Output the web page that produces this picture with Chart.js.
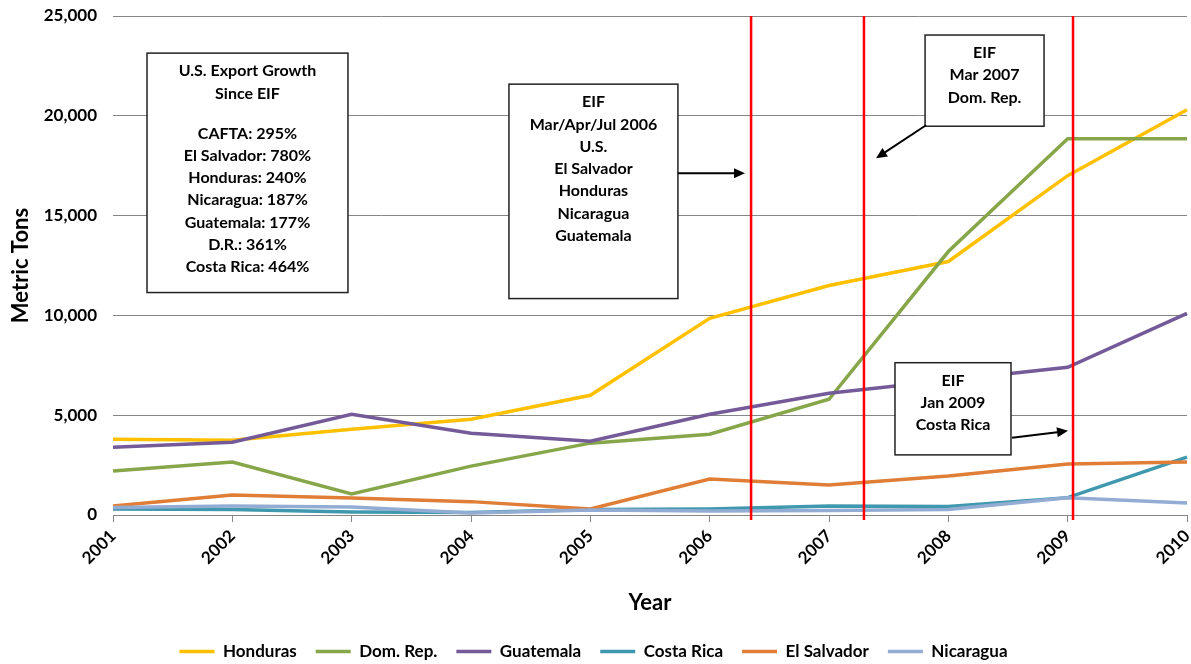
<!DOCTYPE html>
<html>
<head>
<meta charset="utf-8">
<script src="https://cdn.jsdelivr.net/npm/chart.js@4.4.1/dist/chart.umd.min.js"></script>
<style>
  html, body { margin: 0; padding: 0; background: #fff; overflow: hidden; }
  #wrap { width: 1191px; height: 664px; }
</style>
</head>
<body>
<div id="wrap"><canvas id="chart"></canvas></div>
<script>
const years = ['2001', '2002', '2003', '2004', '2005', '2006', '2007', '2008', '2009', '2010'];

const honduras   = [3800, 3750, 4300, 4800, 6000, 9850, 11500, 12700, 17000, 20300];
const domRep     = [2200, 2650, 1050, 2450, 3600, 4050, 5800, 13200, 18850, 18850];
const guatemala  = [3400, 3650, 5050, 4100, 3700, 5050, 6100, 6750, 7400, 10100];
const costaRica  = [300, 280, 150, 130, 280, 300, 450, 420, 870, 2900];
const elSalvador = [450, 1000, 850, 670, 300, 1800, 1500, 1950, 2550, 2650];
const nicaragua  = [380, 450, 400, 100, 250, 200, 230, 280, 870, 600];

const yTicks = [0, 5000, 10000, 15000, 20000, 25000];

// entry-into-force dates, as fractional positions on the year axis (0 = 2001)
const eifLines = [5.347, 6.293, 8.045];

// text boxes, placed in axis units (x: year index, y: metric tons)
const notes = [
    { x0: 0.285, x1: 1.969, yTop: 23140, yBot: 11145,
      lines: ['U.S. Export Growth', 'Since EIF', '', 'CAFTA: 295%', 'El Salvador: 780%', 'Honduras: 240%',
              'Nicaragua: 187%', 'Guatemala: 177%', 'D.R.: 361%', 'Costa Rica: 464%'] },
    { x0: 3.318, x1: 4.734, yTop: 21586, yBot: 10843,
      lines: ['EIF', 'Mar/Apr/Jul 2006', 'U.S.', 'El Salvador', 'Honduras', 'Nicaragua', 'Guatemala'] },
    { x0: 6.805, x1: 7.802, yTop: 24046, yBot: 19478,
      lines: ['EIF', 'Mar 2007', 'Dom. Rep.'] },
    { x0: 6.553, x1: 7.525, yTop: 7630, yBot: 3012,
      lines: ['EIF', 'Jan 2009', 'Costa Rica'] }
];

const arrows = [
    { from: [4.734, 17118], to: [5.296, 17118] },
    { from: [6.813, 19528], to: [6.394, 17871] },
    { from: [7.534, 3865], to: [8.003, 4217] }
];

const FONT = 'Lato, "Open Sans", sans-serif';
const GRID = '#868686';

function drawArrow(ctx, x1, y1, x2, y2) {
    const ang = Math.atan2(y2 - y1, x2 - x1);
    const head = 11;
    ctx.beginPath();
    ctx.moveTo(x1, y1);
    ctx.lineTo(x2 - Math.cos(ang) * head * 0.8, y2 - Math.sin(ang) * head * 0.8);
    ctx.stroke();
    ctx.beginPath();
    ctx.moveTo(x2, y2);
    ctx.lineTo(x2 - head * Math.cos(ang) + 5 * Math.sin(ang), y2 - head * Math.sin(ang) - 5 * Math.cos(ang));
    ctx.lineTo(x2 - head * Math.cos(ang) - 5 * Math.sin(ang), y2 - head * Math.sin(ang) + 5 * Math.cos(ang));
    ctx.closePath();
    ctx.fill();
}

const eifPlugin = {
    id: 'eifNotes',
    afterDatasetsDraw(chart) {
        const { ctx, chartArea, scales: { x, y } } = chart;
        ctx.save();

        ctx.strokeStyle = '#ff0000';
        ctx.lineWidth = 2.5;
        eifLines.forEach(v => {
            const px = x.getPixelForValue(v);
            ctx.beginPath();
            ctx.moveTo(px, chartArea.top);
            ctx.lineTo(px, chartArea.bottom + 5);
            ctx.stroke();
        });

        ctx.font = `bold 16px ${FONT}`;
        ctx.textAlign = 'center';
        ctx.textBaseline = 'middle';
        notes.forEach(n => {
            const l = x.getPixelForValue(n.x0);
            const r = x.getPixelForValue(n.x1);
            const t = y.getPixelForValue(n.yTop);
            const b = y.getPixelForValue(n.yBot);
            ctx.fillStyle = '#fff';
            ctx.fillRect(l, t, r - l, b - t);
            ctx.strokeStyle = '#222';
            ctx.lineWidth = 1.5;
            ctx.strokeRect(l, t, r - l, b - t);
            ctx.fillStyle = '#000';
            let ty = t + 18;
            n.lines.forEach(line => {
                if (line === '') { ty += 17.7; return; }
                ctx.fillText(line, (l + r) / 2, ty);
                ty += 22.3;
            });
        });

        ctx.strokeStyle = '#000';
        ctx.fillStyle = '#000';
        ctx.lineWidth = 2;
        arrows.forEach(a => {
            drawArrow(ctx,
                x.getPixelForValue(a.from[0]), y.getPixelForValue(a.from[1]),
                x.getPixelForValue(a.to[0]), y.getPixelForValue(a.to[1]));
        });
        ctx.restore();
    }
};

function series(label, data, color, order) {
    return {
        label, data, order,
        borderColor: color,
        backgroundColor: color,
        borderWidth: 3.5,
        pointRadius: 0,
        tension: 0,
        fill: false
    };
}

new Chart(document.getElementById('chart'), {
    type: 'line',
    data: {
        labels: years,
        datasets: [
            series('Honduras', honduras, '#FFC000', 5),
            series('Dom. Rep.', domRep, '#87A64A', 4),
            series('Guatemala', guatemala, '#745A98', 3),
            series('Costa Rica', costaRica, '#3F98AE', 2),
            series('El Salvador', elSalvador, '#E07E38', 1),
            series('Nicaragua', nicaragua, '#93ACD4', 0)
        ]
    },
    options: {
        responsive: true,
        maintainAspectRatio: false,
        animation: false,
        devicePixelRatio: 1,
        layout: { padding: { top: 16, right: 4, bottom: -6, left: 0 } },
        plugins: {
            legend: {
                position: 'bottom',
                labels: {
                    usePointStyle: true,
                    pointStyle: 'line',
                    pointStyleWidth: 35,
                    padding: 19,
                    color: '#000',
                    font: { family: FONT, size: 17, weight: 'bold' },
                    sort: (a, b) => a.datasetIndex - b.datasetIndex
                }
            },
            tooltip: { enabled: false }
        },
        scales: {
            x: {
                offset: false,
                grid: { display: true, drawOnChartArea: false, drawTicks: true, tickLength: 7, color: GRID },
                border: { display: true, color: GRID, width: 1 },
                ticks: {
                    autoSkip: false, minRotation: 45, maxRotation: 45, padding: 4,
                    color: '#000', font: { family: FONT, size: 17, weight: 'bold' }
                },
                title: {
                    display: true, text: 'Year', color: '#000',
                    font: { family: FONT, size: 22, weight: 'bold' },
                    padding: { top: 0, bottom: 8 }
                },
                afterFit(s) { s.height = 109; s.paddingLeft = 0; s.paddingRight = 0; }
            },
            y: {
                min: 0, max: 25000,
                afterBuildTicks(s) { s.ticks = yTicks.map(v => ({ value: v })); },
                grid: { color: GRID, drawTicks: false },
                border: { display: false },
                ticks: {
                    padding: 16, color: '#000',
                    font: { family: FONT, size: 17, weight: 'bold' },
                    callback: v => Number(v).toLocaleString('en-US')
                },
                title: {
                    display: true, text: 'Metric Tons', color: '#000',
                    font: { family: FONT, size: 22, weight: 'bold' },
                    padding: { top: 8, bottom: 0 }
                },
                afterFit(s) { s.width = 113; s.paddingTop = 0; s.paddingBottom = 0; }
            }
        }
    },
    plugins: [eifPlugin]
});
</script>
</body>
</html>
